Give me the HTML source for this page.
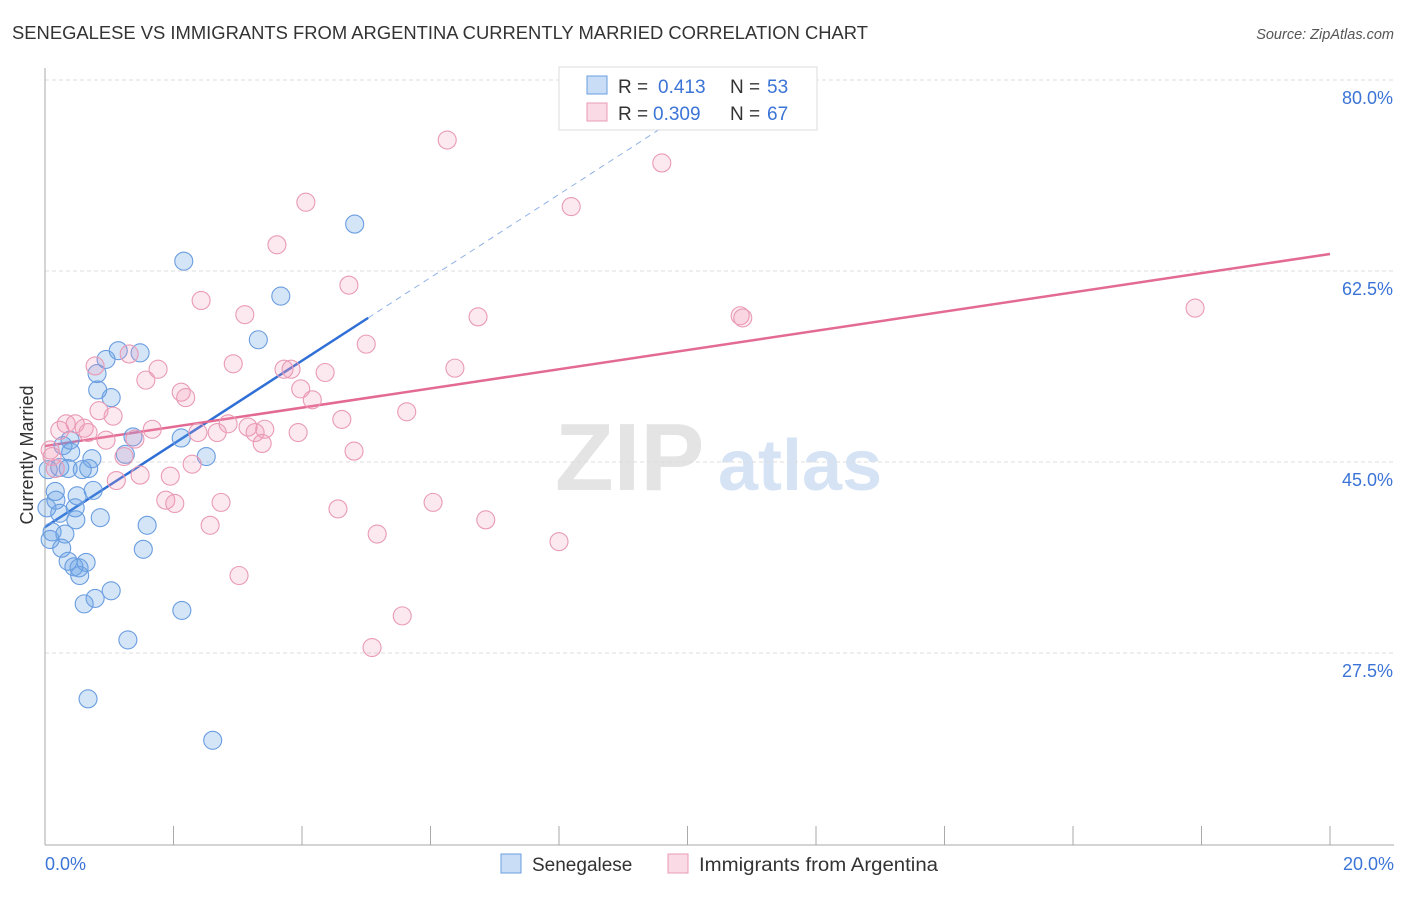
<!DOCTYPE html>
<html><head><meta charset="utf-8"><style>
body{margin:0;background:#fff;font-family:"Liberation Sans",sans-serif}
svg text{font-family:"Liberation Sans",sans-serif}
</style></head><body>
<svg id="c" width="1406" height="892">
<text x="12" y="39" font-size="18" fill="#333" textLength="856" lengthAdjust="spacingAndGlyphs">SENEGALESE VS IMMIGRANTS FROM ARGENTINA CURRENTLY MARRIED CORRELATION CHART</text>
<text x="1394" y="39" font-size="14.5" fill="#555" font-style="italic" text-anchor="end">Source: ZipAtlas.com</text>
<text x="555" y="490" font-size="96" fill="#e4e4e4" font-family="Liberation Serif" font-weight="bold">ZIP</text>
<text x="718" y="490" font-size="72" fill="#d5e3f5" font-weight="bold">atlas</text>
<g id="grid"></g><g id="axes"></g><g id="lines"></g><g id="pts"></g>
<text transform="translate(33,455) rotate(-90)" font-size="18" fill="#333" text-anchor="middle">Currently Married</text>
<g>
<rect x="559" y="67" width="258" height="63" fill="#fff" stroke="#ddd"/>
<rect x="587" y="76" width="20" height="18" fill="rgba(100,160,230,0.35)" stroke="#6a9de0"/>
<text x="618" y="93" font-size="19" fill="#333">R =</text>
<text x="658" y="93" font-size="19" fill="#3b74d6">0.413</text>
<text x="730" y="93" font-size="19" fill="#333">N =</text>
<text x="767" y="93" font-size="19" fill="#3b74d6">53</text>
<rect x="587" y="103" width="20" height="18" fill="rgba(240,150,180,0.35)" stroke="#e99ab5"/>
<text x="618" y="120" font-size="19" fill="#333">R =</text>
<text x="653" y="120" font-size="19" fill="#3b74d6">0.309</text>
<text x="730" y="120" font-size="19" fill="#333">N =</text>
<text x="767" y="120" font-size="19" fill="#3b74d6">67</text>
</g>
<g>
<rect x="501" y="854" width="20" height="19" fill="rgba(100,160,230,0.35)" stroke="#6a9de0"/>
<text x="532" y="871" font-size="19" fill="#333">Senegalese</text>
<rect x="668" y="854" width="20" height="19" fill="rgba(240,150,180,0.35)" stroke="#e99ab5"/>
<text x="699" y="871" font-size="19" fill="#333" textLength="239" lengthAdjust="spacingAndGlyphs">Immigrants from Argentina</text>
</g>
</svg>
<script>
const yTicks=[80,62.5,45,27.5];
const yTickLabels=["80.0%","62.5%","45.0%","27.5%"];
const xTicks=[0,2,4,6,8,10,12,14,16,18,20];
const blueX=[4.82,2.16,3.67,3.32,1.14,1.48,0.95,0.81,0.82,1.03,1.37,2.12,1.25,2.51,0.28,0.40,0.73,0.23,0.36,0.68,0.16,0.75,0.50,0.17,0.03,0.47,0.23,0.86,0.48,1.59,0.11,0.31,0.26,1.53,0.36,0.64,0.45,0.53,0.54,1.03,0.78,0.61,2.13,1.29,0.67,2.61,0.05,0.08,0.39,0.58];
const blueY=[66.8,63.4,60.2,56.2,55.2,55.0,54.4,53.1,51.6,50.9,47.3,47.2,45.7,45.5,46.5,45.9,45.3,44.5,44.4,44.4,42.3,42.4,41.9,41.5,40.8,40.8,40.3,39.9,39.7,39.2,38.6,38.4,37.1,37.0,35.9,35.8,35.4,35.3,34.6,33.2,32.5,32.0,31.4,28.7,23.3,19.5,44.3,37.9,47.0,44.3];
const pinkX=[6.26,9.60,4.06,8.19,3.61,4.73,2.43,3.11,6.74,10.82,10.86,17.90,5.00,2.93,0.78,1.31,1.76,1.57,4.36,3.72,3.83,6.38,2.12,2.19,3.98,4.16,0.84,1.06,5.63,4.62,0.33,0.47,0.61,0.23,0.67,1.67,2.85,3.16,3.42,2.68,2.38,3.27,3.38,0.95,1.40,3.94,4.81,1.23,2.29,0.11,0.16,1.48,1.95,1.11,1.88,2.02,2.74,6.04,4.56,2.57,6.86,5.17,8.00,3.02,5.56,5.09,0.08];
const pinkY=[74.5,72.4,68.8,68.4,64.9,61.2,59.8,58.5,58.3,58.4,58.2,59.1,55.8,54.0,53.8,54.9,53.5,52.5,53.2,53.5,53.5,53.6,51.4,50.9,51.7,50.7,49.7,49.2,49.6,48.9,48.5,48.5,48.1,47.9,47.7,48.0,48.5,48.2,48.0,47.7,47.7,47.7,46.7,47.0,47.1,47.7,46.0,45.5,44.8,45.5,44.4,43.8,43.7,43.3,41.5,41.2,41.3,41.3,40.7,39.2,39.7,38.4,37.7,34.6,30.9,28.0,46.1];
const blueTrend=[39.04,3.81]; // intercept, slope
const pinkTrend=[46.46,0.88];
const X=v=>45+v*64.25, Y=v=>80+(80-v)*10.914;
const NS="http://www.w3.org/2000/svg";
function mk(p,t,a){const e=document.createElementNS(NS,t);for(const k in a)e.setAttribute(k,a[k]);document.getElementById(p).appendChild(e);return e;}
yTicks.forEach((t,i)=>{
 const g=mk('grid','line',{x1:45,x2:1394,y1:Y(t),y2:Y(t),stroke:'#ddd','stroke-dasharray':'4,3'});
 
 
 const l=mk('grid','text',{x:1393,y:Y(t)+24,'text-anchor':'end','font-size':18,fill:'#3b74d6'});
 l.textContent=yTickLabels[i];
 
 
});
let ax=mk('axes','line',{x1:45,x2:45,y1:68,y2:845,stroke:'#aaa'});


ax=mk('axes','line',{x1:45,x2:1394,y1:845,y2:845,stroke:'#aaa'});


xTicks.forEach(t=>{const e=mk('axes','line',{x1:X(t),x2:X(t),y1:826,y2:845,stroke:'#aaa'});
 
 });
let tl=mk('axes','text',{x:45,y:870,'font-size':18,fill:'#3b74d6'});tl.textContent='0.0%';


tl=mk('axes','text',{x:1394,y:870,'font-size':18,fill:'#3b74d6','text-anchor':'end'});tl.textContent='20.0%';


const bt=x=>blueTrend[0]+blueTrend[1]*x, pt=x=>pinkTrend[0]+pinkTrend[1]*x;
let ln=mk('lines','line',{x1:X(0),y1:Y(bt(0)),x2:X(5.03),y2:Y(bt(5.03)),stroke:'#2f6fd6','stroke-width':2.5});


ln=mk('lines','line',{x1:X(5.03),y1:Y(bt(5.03)),x2:X(10.6),y2:Y(bt(10.6)),stroke:'#8fb2e6','stroke-width':1,'stroke-dasharray':'6,5'});


ln=mk('lines','line',{x1:X(0),y1:Y(pt(0)),x2:X(20),y2:Y(pt(20)),stroke:'#e36a92','stroke-width':2.5});


blueX.forEach((x,i)=>{const c=mk('pts','circle',{cx:X(x),cy:Y(blueY[i]),r:9,fill:'rgba(100,160,230,0.28)',stroke:'#6a9de0','stroke-width':1.1});
 
 });
pinkX.forEach((x,i)=>{const c=mk('pts','circle',{cx:X(x),cy:Y(pinkY[i]),r:9,fill:'rgba(240,150,180,0.22)',stroke:'#e99ab5','stroke-width':1.1});
 
 });
</script>
</body></html>
